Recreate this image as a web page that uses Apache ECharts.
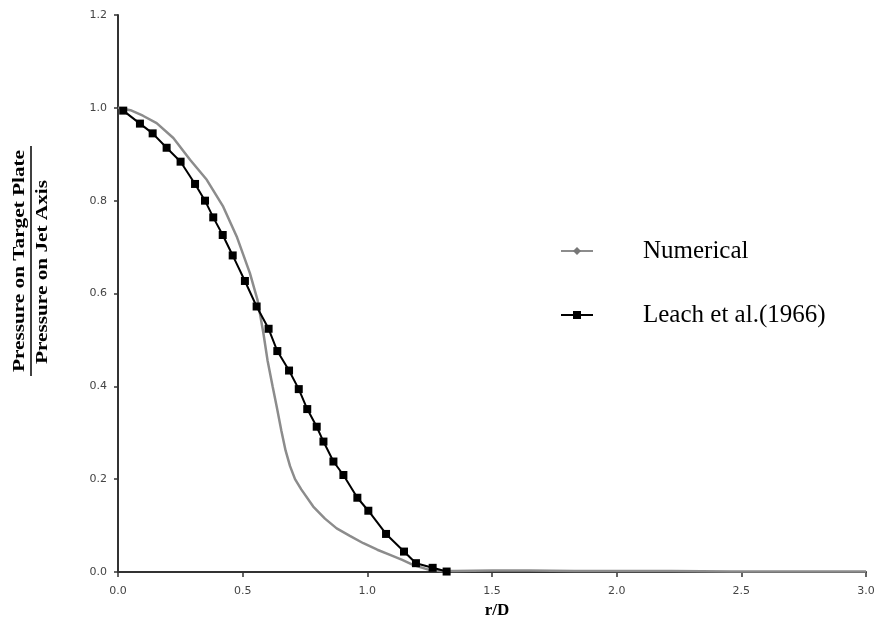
<!DOCTYPE html>
<html>
<head>
<meta charset="utf-8">
<script src="https://cdn.jsdelivr.net/npm/echarts@6/dist/echarts.min.js"></script>
<style>html,body{margin:0;padding:0;background:#fff}#c{width:885px;height:639px}</style>
</head>
<body>
<div id="c"></div>
<script>
// r/D and normalized pressure, numerical simulation
var numX = [0.000, 0.05, 0.10, 0.155, 0.222, 0.289, 0.356, 0.422, 0.476, 0.529, 0.560, 0.583, 0.600, 0.620, 0.637, 0.655, 0.672, 0.690, 0.710, 0.735, 0.783, 0.830, 0.877, 0.930, 0.984, 1.040, 1.091, 1.140, 1.185, 1.251, 1.300, 1.350, 1.500, 1.650, 1.830, 2.000, 2.220, 2.460, 2.700, 2.950, 3.000];
var numY = [1.000, 0.995, 0.983, 0.967, 0.935, 0.888, 0.845, 0.787, 0.723, 0.644, 0.585, 0.515, 0.455, 0.400, 0.355, 0.305, 0.262, 0.228, 0.200, 0.178, 0.141, 0.115, 0.094, 0.078, 0.062, 0.048, 0.037, 0.026, 0.015, 0.004, 0.002, 0.002, 0.003, 0.003, 0.002, 0.002, 0.002, 0.001, 0.001, 0.001, 0.001];
// Leach et al. (1966) experimental
var leachX = [0.021, 0.088, 0.139, 0.195, 0.251, 0.309, 0.349, 0.382, 0.420, 0.460, 0.509, 0.556, 0.604, 0.639, 0.686, 0.725, 0.759, 0.797, 0.824, 0.864, 0.904, 0.960, 1.004, 1.075, 1.147, 1.195, 1.262, 1.318];
var leachY = [0.994, 0.966, 0.945, 0.914, 0.884, 0.836, 0.800, 0.764, 0.726, 0.682, 0.627, 0.572, 0.524, 0.476, 0.434, 0.394, 0.351, 0.313, 0.281, 0.238, 0.209, 0.160, 0.132, 0.082, 0.044, 0.019, 0.009, 0.001];
var seriesNames = ['Numerical', 'Leach et al.(1966)'];
var xTitle = 'r/D';
var yTitleTop = 'Pressure on Target Plate';
var yTitleBottom = 'Pressure on Jet Axis';

function zip(a, b) { return a.map(function (v, i) { return [v, b[i]]; }); }

var chart = echarts.init(document.getElementById('c'), null, {renderer: 'canvas'});
chart.setOption({
  animation: false,
  backgroundColor: '#ffffff',
  grid: {left: 118, right: 19, top: 15, bottom: 67, containLabel: false},
  legend: {
    orient: 'vertical',
    left: 555,
    top: 233,
    itemWidth: 32,
    itemHeight: 10,
    itemGap: 38,
    data: seriesNames,
    textStyle: {fontFamily: 'Liberation Serif', fontSize: 25, color: '#000', lineHeight: 26, padding: [0, 0, 0, 45]}
  },
  xAxis: {
    type: 'value', min: 0, max: 3, interval: 0.5,
    name: xTitle, nameLocation: 'middle', nameGap: 25,
    nameTextStyle: {fontFamily: 'Liberation Serif', fontWeight: 'bold', fontSize: 17, color: '#000', padding: [0, 0, 0, 10]},
    axisLine: {lineStyle: {color: '#333', width: 2}},
    axisTick: {show: true, inside: false, length: 5, lineStyle: {color: '#333', width: 1.5}},
    axisLabel: {margin: 14, fontFamily: 'DejaVu Sans', fontSize: 11, color: '#444', formatter: function (v) { return v.toFixed(1); }},
    splitLine: {show: false}
  },
  yAxis: {
    type: 'value', min: 0, max: 1.2, interval: 0.2,
    axisLine: {show: true, lineStyle: {color: '#333', width: 2}},
    axisTick: {show: true, inside: false, length: 4, lineStyle: {color: '#333', width: 1.5}},
    axisLabel: {margin: 11, fontFamily: 'DejaVu Sans', fontSize: 11, color: '#444', formatter: function (v) { return v.toFixed(1); }},
    splitLine: {show: false}
  },
  series: [
    {
      name: seriesNames[0], type: 'line', data: zip(numX, numY),
      symbol: 'diamond', symbolSize: 4, showSymbol: false,
      lineStyle: {color: '#8c8c8c', width: 2.5},
      itemStyle: {color: '#777'}
    },
    {
      name: seriesNames[1], type: 'line', data: zip(leachX, leachY),
      symbol: 'rect', symbolSize: 8,
      lineStyle: {color: '#000', width: 2},
      itemStyle: {color: '#000'}
    }
  ],
  graphic: [
    {type: 'text', x: 20, y: 261, rotation: Math.PI / 2, scaleX: 1.25,
     style: {text: yTitleTop, font: 'bold 17px "Liberation Serif"', fill: '#000', textAlign: 'center', textVerticalAlign: 'middle'}},
    {type: 'line', shape: {x1: 31, y1: 146, x2: 31, y2: 376}, style: {stroke: '#000', lineWidth: 1.5}},
    {type: 'text', x: 43, y: 272, rotation: Math.PI / 2, scaleX: 1.25,
     style: {text: yTitleBottom, font: 'bold 17px "Liberation Serif"', fill: '#000', textAlign: 'center', textVerticalAlign: 'middle'}}
  ]
});
</script>
</body>
</html>
